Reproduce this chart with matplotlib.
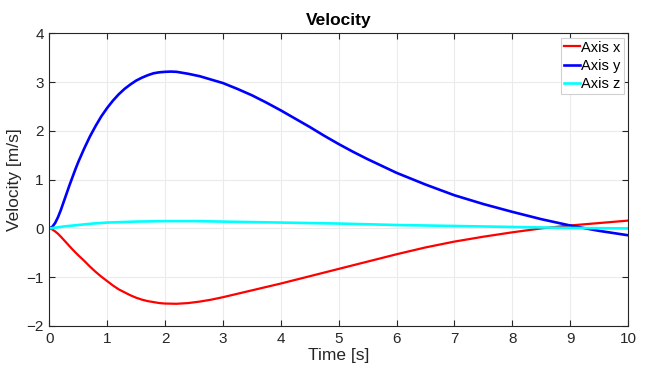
import matplotlib
matplotlib.use("Agg")
import matplotlib.pyplot as plt

plt.rcParams['font.family'] = ['Liberation Sans', 'DejaVu Sans']

# Data
t_x = [0, 0.05, 0.1, 0.15, 0.2, 0.3, 0.4, 0.5, 0.6, 0.7, 0.8, 0.9, 1.0, 1.1,
       1.2, 1.3, 1.4, 1.5, 1.6, 1.7, 1.8, 1.9, 2.0, 2.2, 2.4, 2.6, 2.8, 3.0,
       3.25, 3.5, 3.75, 4.0, 4.5, 5.0, 5.5, 6.0, 6.5, 7.0, 7.5, 8.0, 8.5,
       9.0, 9.5, 10.0]
v_x = [0, -0.02, -0.06, -0.11, -0.17, -0.30, -0.43, -0.55, -0.66, -0.78,
       -0.89, -0.99, -1.08, -1.17, -1.25, -1.31, -1.37, -1.42, -1.46, -1.49,
       -1.51, -1.53, -1.54, -1.545, -1.53, -1.50, -1.46, -1.41, -1.34, -1.27,
       -1.20, -1.13, -0.98, -0.83, -0.68, -0.53, -0.39, -0.27, -0.17, -0.08,
       0.00, 0.06, 0.11, 0.16]

t_y = [0, 0.05, 0.1, 0.15, 0.2, 0.25, 0.3, 0.35, 0.4, 0.45, 0.5, 0.6, 0.7,
       0.8, 0.9, 1.0, 1.1, 1.2, 1.3, 1.4, 1.5, 1.6, 1.7, 1.8, 1.9, 2.0, 2.1,
       2.2, 2.3, 2.4, 2.6, 2.8, 3.0, 3.25, 3.5, 3.75, 4.0, 4.25, 4.5, 4.75,
       5.0, 5.25, 5.5, 5.75, 6.0, 6.25, 6.5, 6.75, 7.0, 7.5, 8.0, 8.5, 9.0,
       9.5, 10.0]
v_y = [0, 0.03, 0.11, 0.23, 0.38, 0.55, 0.72, 0.89, 1.05, 1.21, 1.36, 1.63,
       1.88, 2.10, 2.30, 2.47, 2.62, 2.75, 2.86, 2.95, 3.03, 3.09, 3.14, 3.18,
       3.20, 3.21, 3.215, 3.21, 3.19, 3.17, 3.12, 3.05, 2.98, 2.86, 2.73,
       2.58, 2.42, 2.25, 2.08, 1.90, 1.73, 1.57, 1.42, 1.28, 1.14, 1.02, 0.90,
       0.79, 0.68, 0.50, 0.34, 0.19, 0.06, -0.05, -0.14]

t_z = [0, 0.1, 0.25, 0.5, 0.75, 1.0, 1.5, 2.0, 2.5, 3.0, 3.5, 4.0, 4.5, 5.0,
       6.0, 7.0, 8.0, 9.0, 10.0]
v_z = [0, 0.015, 0.04, 0.07, 0.10, 0.12, 0.14, 0.15, 0.15, 0.14, 0.13, 0.12,
       0.11, 0.10, 0.07, 0.05, 0.03, 0.01, 0.0]

series_labels = ['Axis x', 'Axis y', 'Axis z']
x_ticks = [0, 1, 2, 3, 4, 5, 6, 7, 8, 9, 10]
y_ticks = [-2, -1, 0, 1, 2, 3, 4]

fig = plt.figure(figsize=(6.54, 3.72), dpi=100)
ax = fig.add_axes([0.0754, 0.1237, 0.9602 - 0.0754, 0.9105 - 0.1237])

ax.plot(t_x, v_x, color='#ff0000', lw=1.6, label=series_labels[0])
ax.plot(t_y, v_y, color='#0000ff', lw=1.9, label=series_labels[1])
ax.plot(t_z, v_z, color='#00ffff', lw=1.9, label=series_labels[2])

ax.set_xlim(0, 10)
ax.set_ylim(-2, 4)
ax.set_xticks(x_ticks)
ax.set_yticks(y_ticks)
ax.grid(True, color='#ebebeb', lw=0.8)
ax.set_axisbelow(True)
for s in ax.spines.values():
    s.set_color('#262626')
    s.set_linewidth(0.8)
ax.tick_params(direction='in', top=True, right=True, length=4, width=0.8,
               colors='#262626', labelsize=11, pad=4)

ax.set_title('Velocity', fontsize=12.5, fontweight='bold', color='black', pad=6)
ax.set_xlabel('Time [s]', fontsize=12.5, color='#262626', labelpad=2)
ax.set_ylabel('Velocity [m/s]', fontsize=12.5, color='#262626', labelpad=3)

leg = ax.legend(loc='upper right', fontsize=10.5, handlelength=1.1,
                handletextpad=0.1, labelspacing=0.28, borderpad=0.2,
                borderaxespad=0.3, fancybox=False, framealpha=1,
                edgecolor='#d0d0d0')
leg.get_frame().set_linewidth(0.8)

fig.savefig('out.png', dpi=100)
